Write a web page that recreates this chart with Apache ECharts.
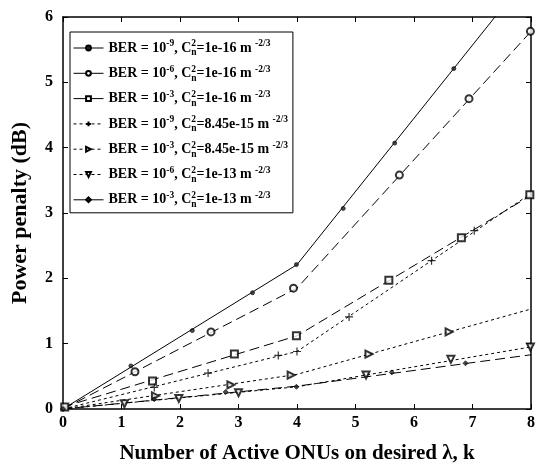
<!DOCTYPE html>
<html><head><meta charset="utf-8">
<script src="https://cdn.jsdelivr.net/npm/echarts@6/dist/echarts.min.js"></script>
<style>html,body{margin:0;padding:0;background:#fff}#c{width:540px;height:465px}</style>
</head><body><div id="c"></div>
<script>
const kVertices = [0, 4, 8];
const s1 = [0, 2.21, 6.69];
const s2 = [0, 1.85, 5.78];
const s3 = [0.03, 1.12, 3.27];
const s4 = [0, 0.88, 3.30];
const s5 = [0, 0.53, 1.53];
const s6 = [0, 0.34, 0.95];
const s7 = [0, 0.35, 0.83];

const m1 = [[0,0],[1.16,0.66],[2.21,1.20],[3.24,1.78],[3.99,2.21],[4.79,3.07],[5.67,4.07],[6.68,5.21]];
const m2 = [[1.23,0.57],[2.53,1.18],[3.94,1.85],[5.75,3.58],[6.94,4.75],[7.99,5.78]];
const m3 = [[0.03,0.03],[1.53,0.43],[2.93,0.84],[3.99,1.12],[5.57,1.97],[6.81,2.62],[7.98,3.28]];
const m4 = [[1.56,0.33],[2.48,0.55],[3.68,0.82],[4.0,0.88],[4.89,1.41],[6.30,2.27],[7.03,2.73]];
const m5 = [[1.58,0.20],[2.87,0.37],[3.90,0.52],[5.23,0.84],[6.60,1.18]];
const m6 = [[1.05,0.08],[1.98,0.16],[3.0,0.25],[5.18,0.52],[6.63,0.76],[7.99,0.95]];
const m7 = [[0,0],[1.56,0.15],[2.78,0.26],[3.99,0.34],[5.62,0.56],[6.88,0.70]];

const berExp = ['-9','-6','-3','-9','-3','-6','-3'];
const cn2 = ['1e-16','1e-16','1e-16','8.45e-15','8.45e-15','1e-13','1e-13'];
const xTicks = [0,1,2,3,4,5,6,7,8];
const yTicks = [0,1,2,3,4,5,6];

const lines = [s1,s2,s3,s4,s5,s6,s7];
const marks = [m1,m2,m3,m4,m5,m6,m7];
const names = berExp.map((e,i)=>'BER = 10^' + e + ', Cn2=' + cn2[i]);

const plus = 'path://M5,0 L5,10 M0,5 L10,5';
const symbols = ['circle','emptyCircle','emptyRect', plus, 'emptyTriangle','emptyTriangle','diamond'];
const rot = [0,0,0,0,-90,180,0];
const sizes = [4,7,7,8,7,7,5];
const dash = ['solid',[10,5],[10,5],[3,3],[3,3],[3,3],[10,5]];
const legendDash = ['solid','solid','solid',[3,3],[3,3],[3,3],'solid'];
const font = 'Liberation Serif';

const series = [];
lines.forEach((v,i)=>{
  series.push({
    name: names[i], type:'line', data: kVertices.map((k,j)=>[k,v[j]]),
    showSymbol:false, symbol: symbols[i], symbolSize: sizes[i], symbolRotate: rot[i],
    lineStyle:{color:'#000', width:1, type: dash[i]},
    itemStyle:{color: (i===0||i===6)?'#222':'#000', borderColor:'#000', borderWidth: i===3?1.2:0.8},
    animation:false, z:2
  });
  series.push({
    name: 'm'+i, type:'scatter', data: marks[i],
    symbol: symbols[i], symbolSize: sizes[i], symbolRotate: rot[i],
    itemStyle:{color: (i===0||i===6)?'#222':'#000', borderColor:'#000', borderWidth: i===3?1.2:0.8},
    animation:false, z:3, clip:false
  });
});

const chart = echarts.init(document.getElementById('c'), null, {renderer:'canvas'});
chart.setOption({
  backgroundColor:'#fff',
  animation:false,
  grid:{left:63, right:9, top:17, bottom:56, containLabel:false, outerBoundsMode:'none'},
  legend:{
    data: names.map((n,i)=>({name:n, lineStyle:{type: legendDash[i], width:1, color:'#000'}})),
    orient:'vertical', left:70, top:32,
    backgroundColor:'#fff', borderColor:'#000', borderWidth:1,
    padding:[6,5,3,3], itemGap:5.3, itemWidth:30, itemHeight:6,
    lineStyle:{width:1},
    formatter: function(n){
      const i = names.indexOf(n);
      return '{t|BER = 10}{sp|' + berExp[i] + '}{t|, C}{s2|2}{sn|n}{t|=' + cn2[i] + ' m }{sp|-2/3}';
    },
    textStyle:{
      fontFamily:font, fontWeight:'bold', fontSize:14, color:'#000',
      rich:{
        t:{fontFamily:font, fontWeight:'bold', fontSize:14, color:'#000', lineHeight:22},
        sp:{fontFamily:font, fontWeight:'bold', fontSize:9.5, color:'#000', lineHeight:22, padding:[0,0,8,0]},
        s2:{fontFamily:font, fontWeight:'bold', fontSize:9.5, color:'#000', lineHeight:22, width:0.01, padding:[0,0,8,0]},
        sn:{fontFamily:font, fontWeight:'bold', fontSize:9.5, color:'#000', lineHeight:22, padding:[10,0,0,0]}
      }
    }
  },
  xAxis:[{
    type:'value', min:0, max:8, interval:1,
    name:'Number of Active ONUs on desired λ, k', nameLocation:'middle', nameGap:34,
    nameTextStyle:{fontFamily:font, fontWeight:'bold', fontSize:21, color:'#000'},
    axisLine:{show:true, onZero:false, lineStyle:{color:'#000', width:1.5}},
    axisTick:{show:true, inside:true, length:5, lineStyle:{color:'#000'}},
    axisLabel:{fontFamily:font, fontWeight:'bold', fontSize:16, color:'#000', margin:6},
    splitLine:{show:false}
  },{
    type:'value', min:0, max:8, interval:1, position:'top',
    axisLine:{show:true, onZero:false, lineStyle:{color:'#000', width:1.5}},
    axisTick:{show:true, inside:true, length:5, lineStyle:{color:'#000'}},
    axisLabel:{show:false}, splitLine:{show:false}
  }],
  yAxis:[{
    type:'value', min:0, max:6, interval:1,
    name:'Power penalty (dB)', nameLocation:'middle', nameGap:32, nameRotate:90,
    nameTextStyle:{fontFamily:font, fontWeight:'bold', fontSize:22, color:'#000'},
    axisLine:{show:true, onZero:false, lineStyle:{color:'#000', width:1.5}},
    axisTick:{show:true, inside:true, length:5, lineStyle:{color:'#000'}},
    axisLabel:{fontFamily:font, fontWeight:'bold', fontSize:16, color:'#000', margin:10},
    splitLine:{show:false}
  },{
    type:'value', min:0, max:6, interval:1, position:'right',
    axisLine:{show:true, onZero:false, lineStyle:{color:'#000', width:1.5}},
    axisTick:{show:true, inside:true, length:5, lineStyle:{color:'#000'}},
    axisLabel:{show:false}, splitLine:{show:false}
  }],
  series: series
});
</script></body></html>
